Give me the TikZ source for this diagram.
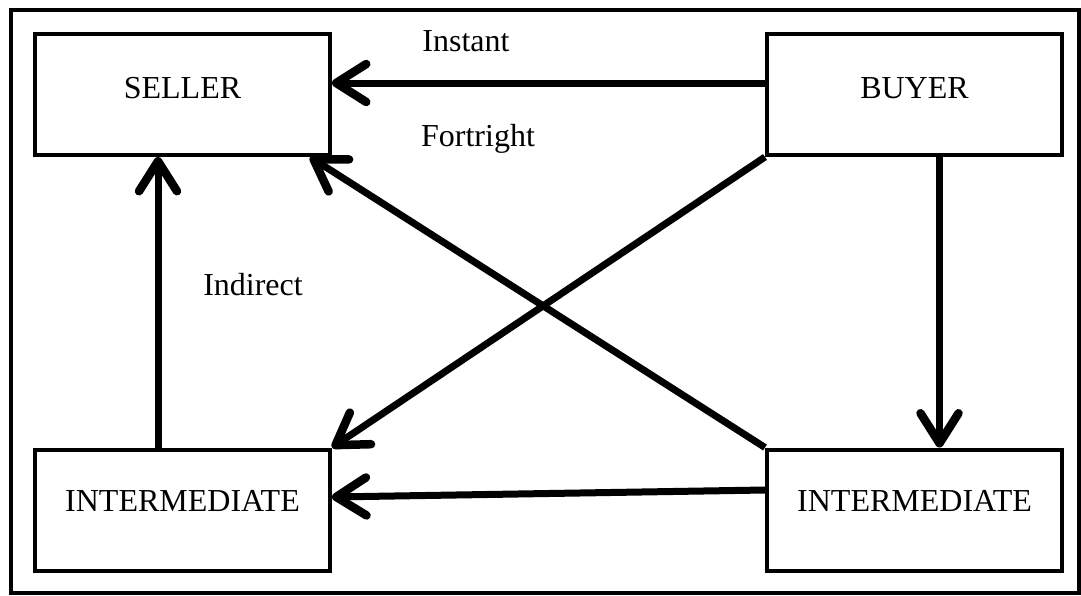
\documentclass[tikz,border=0pt]{standalone}
\usepackage{fontspec}
\setmainfont{Liberation Serif}
\usetikzlibrary{arrows.meta}
\begin{document}
\begin{tikzpicture}[x=1pt,y=-1pt,
  box/.style={draw, line width=4pt, minimum width=295pt, minimum height=121pt, inner sep=0pt, font=\fontsize{32}{38}\selectfont},
  lbl/.style={anchor=base, inner sep=0pt, font=\fontsize{32}{38}\selectfont},
  arr/.style={line width=7pt, -{Straight Barb[length=30pt,width=38pt,line width=8.5pt,round]}}]
\useasboundingbox (0,0) rectangle (1081,595);
\draw[line width=4pt] (11,9.5) rectangle (1079,593);
\node[box] (seller) at (182.5,94.5) {\raisebox{13.5pt}{SELLER}};
\node[box] (buyer) at (914.5,94.5) {\raisebox{13.5pt}{BUYER}};
\node[box] (lint) at (182.5,510) {\raisebox{19pt}{INTERMEDIATE}};
\node[box] (rint) at (914.5,510) {\raisebox{19pt}{INTERMEDIATE}};
\draw[arr] ([yshift=11.5pt]buyer.west) -- ([yshift=11.5pt]seller.east);
\draw[arr] (buyer.south west) -- (lint.north east);
\draw[arr] (rint.north west) -- ([xshift=-22pt]seller.south east);
\draw[arr] ([xshift=25pt]buyer.south) -- ([xshift=25pt]rint.north);
\draw[arr] ([xshift=-24.5pt]lint.north) -- ([xshift=-24.5pt]seller.south);
\draw[arr] ([yshift=20pt]rint.west) -- ([yshift=13pt]lint.east);
\node[lbl] (instant) at (466,51) {Instant};
\node[lbl] (fortright) at (478,146) {Fortright};
\node[lbl] (indirect) at (253,295) {Indirect};
\end{tikzpicture}
\end{document}
